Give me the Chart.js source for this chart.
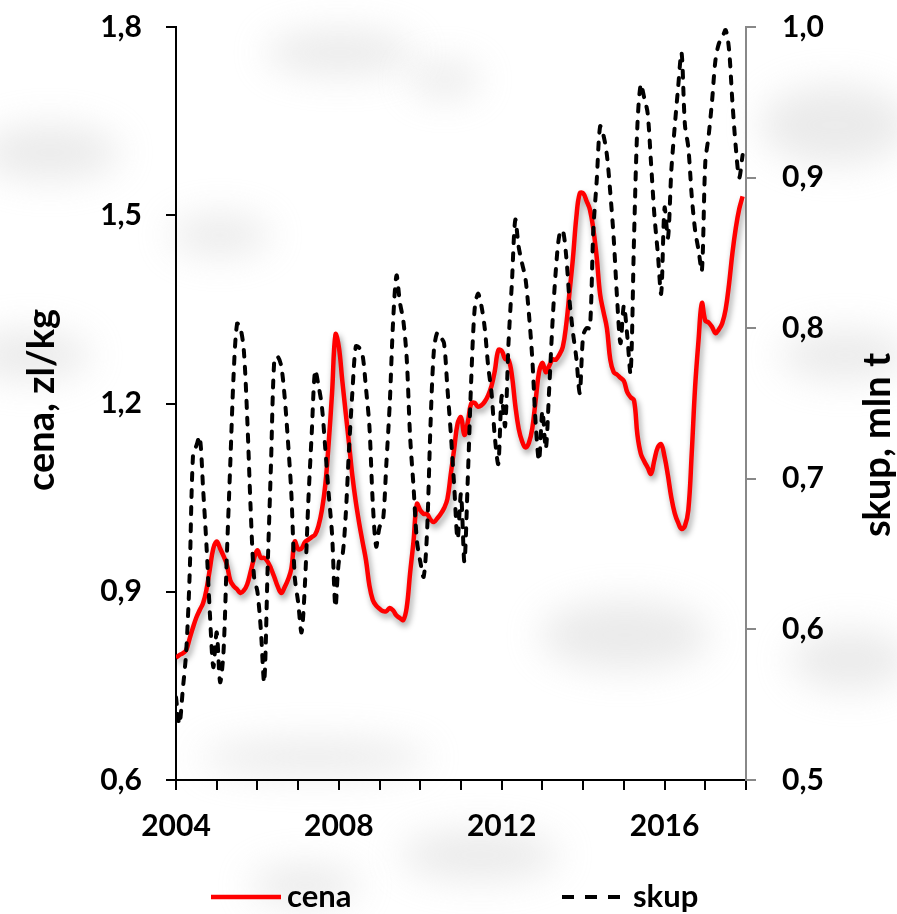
<!DOCTYPE html>
<html lang="pl">
<head>
<meta charset="utf-8">
<title>Cena i skup</title>
<script src="https://cdn.jsdelivr.net/npm/chart.js@4.4.0/dist/chart.umd.min.js"></script>
<style>
  html, body { margin: 0; padding: 0; background: #fff; }
  #wrap { position: relative; width: 897px; height: 914px; overflow: hidden; }
  #tlo { position: absolute; left: 0; top: 0; width: 897px; height: 914px; }
  #tlo div { position: absolute; border-radius: 50%; background: #cfcfcf; filter: blur(18px); opacity: 0.42; }
  canvas { position: absolute; left: 0; top: 0; }
</style>
</head>
<body>
<div id="wrap">
  <div id="tlo">
    <div style="left:265px;top:30px;width:150px;height:45px;"></div>
    <div style="left:410px;top:62px;width:70px;height:35px;"></div>
    <div style="left:-20px;top:125px;width:140px;height:55px;"></div>
    <div style="left:170px;top:215px;width:100px;height:40px;"></div>
    <div style="left:-30px;top:330px;width:120px;height:50px;"></div>
    <div style="left:760px;top:85px;width:150px;height:80px;"></div>
    <div style="left:780px;top:330px;width:130px;height:50px;"></div>
    <div style="left:540px;top:600px;width:170px;height:70px;"></div>
    <div style="left:790px;top:630px;width:120px;height:60px;"></div>
    <div style="left:200px;top:740px;width:230px;height:35px;"></div>
    <div style="left:400px;top:830px;width:160px;height:50px;"></div>
    <div style="left:250px;top:865px;width:110px;height:40px;"></div>
  </div>
  <canvas id="wykres" width="897" height="914"></canvas>
</div>
<script>
// dane miesieczne, I.2004 - XII.2017
const cena = [
  0.795, 0.799, 0.802, 0.807, 0.825, 0.843, 0.859, 0.871, 0.882, 0.904, 0.937, 0.969,
  0.980, 0.969, 0.957, 0.943, 0.918, 0.909, 0.904, 0.898, 0.902, 0.912, 0.932, 0.953,
  0.966, 0.954, 0.954, 0.948, 0.937, 0.923, 0.908, 0.898, 0.907, 0.919, 0.937, 0.980,
  0.968, 0.969, 0.979, 0.983, 0.987, 0.991, 1.005, 1.030, 1.070, 1.137, 1.217, 1.310,
  1.290, 1.237, 1.186, 1.136, 1.084, 1.043, 1.009, 0.979, 0.950, 0.910, 0.887, 0.878,
  0.873, 0.869, 0.869, 0.874, 0.870, 0.862, 0.858, 0.855, 0.875, 0.930, 0.980, 1.040,
  1.030, 1.024, 1.024, 1.015, 1.011, 1.017, 1.024, 1.033, 1.048, 1.088, 1.128, 1.168,
  1.178, 1.150, 1.170, 1.200, 1.201, 1.195, 1.197, 1.203, 1.213, 1.228, 1.253, 1.285,
  1.284, 1.271, 1.270, 1.245, 1.197, 1.160, 1.140, 1.130, 1.137, 1.160, 1.205, 1.250,
  1.265, 1.250, 1.260, 1.270, 1.270, 1.278, 1.290, 1.325, 1.378, 1.432, 1.497, 1.535,
  1.535, 1.523, 1.509, 1.478, 1.433, 1.374, 1.346, 1.320, 1.270, 1.250, 1.246, 1.241,
  1.236, 1.218, 1.210, 1.205, 1.150, 1.120, 1.108, 1.098, 1.088, 1.110, 1.130, 1.135,
  1.115, 1.085, 1.050, 1.025, 1.010, 1.000, 1.005, 1.030, 1.120, 1.226, 1.300, 1.360,
  1.332, 1.329, 1.322, 1.312, 1.318, 1.328, 1.350, 1.390, 1.440, 1.480, 1.510, 1.530
];
const skup = [
  0.555, 0.537, 0.560, 0.585, 0.635, 0.715, 0.722, 0.728, 0.693, 0.655, 0.610, 0.575,
  0.598, 0.565, 0.585, 0.650, 0.710, 0.770, 0.803, 0.800, 0.785, 0.740, 0.680, 0.635,
  0.625, 0.600, 0.565, 0.640, 0.710, 0.780, 0.781, 0.775, 0.755, 0.725, 0.690, 0.635,
  0.618, 0.598, 0.630, 0.685, 0.730, 0.772, 0.762, 0.748, 0.720, 0.690, 0.663, 0.615,
  0.645, 0.648, 0.675, 0.720, 0.758, 0.788, 0.787, 0.782, 0.760, 0.735, 0.684, 0.655,
  0.668, 0.672, 0.710, 0.750, 0.805, 0.835, 0.817, 0.805, 0.780, 0.728, 0.695, 0.659,
  0.645, 0.635, 0.665, 0.735, 0.785, 0.797, 0.794, 0.790, 0.760, 0.730, 0.695, 0.660,
  0.690, 0.645, 0.700, 0.765, 0.812, 0.823, 0.815, 0.800, 0.775, 0.757, 0.727, 0.710,
  0.755, 0.735, 0.790, 0.830, 0.872, 0.854, 0.843, 0.833, 0.810, 0.780, 0.737, 0.712,
  0.745, 0.720, 0.760, 0.805, 0.840, 0.862, 0.865, 0.848, 0.818, 0.797, 0.780, 0.757,
  0.795, 0.800, 0.800, 0.865, 0.898, 0.934, 0.928, 0.915, 0.890, 0.860, 0.820, 0.790,
  0.815, 0.795, 0.770, 0.860, 0.935, 0.962, 0.953, 0.943, 0.910, 0.875, 0.850, 0.823,
  0.880, 0.860, 0.905, 0.934, 0.960, 0.983, 0.935, 0.920, 0.888, 0.865, 0.852, 0.838,
  0.910, 0.928, 0.951, 0.978, 0.989, 0.993, 0.998, 0.985, 0.950, 0.920, 0.900, 0.915
];
const lataEtykiety = [2004, 2008, 2012, 2016];
const cenaTicks = [0.6, 0.9, 1.2, 1.5, 1.8];
const skupTicks = [0.5, 0.6, 0.7, 0.8, 0.9, 1.0];

// pozycja kazdego miesiaca na osi czasu
const miesiace = cena.map((_, i) => 2004 + i / 12);

const FONT = 'Lato, "Open Sans", sans-serif';
const przecinek = v => Number(v).toFixed(1).replace('.', ',');

// cien pod czerwona linia
const cien = {
  id: 'cien',
  beforeDatasetDraw(chart, args) {
    if (args.index !== 0) return;
    const c = chart.ctx;
    c.save();
    c.shadowColor = 'rgba(0,0,0,0.4)';
    c.shadowBlur = 6;
    c.shadowOffsetX = 2;
    c.shadowOffsetY = 4;
  },
  afterDatasetDraw(chart, args) {
    if (args.index === 0) chart.ctx.restore();
  }
};

// tytuly osi + legenda na dole
const opisy = {
  id: 'opisy',
  afterDraw(chart) {
    const c = chart.ctx;
    c.save();
    c.fillStyle = '#000';
    c.font = 'bold 38px ' + FONT;
    c.textAlign = 'center';
    c.textBaseline = 'middle';

    c.save();
    c.translate(42, 400);
    c.rotate(-Math.PI / 2);
    c.fillText('cena, zl/kg', 0, 0);
    c.restore();

    c.save();
    c.translate(878, 445);
    c.rotate(-Math.PI / 2);
    c.fillText('skup, mln t', 0, 0);
    c.restore();

    // legenda
    const ly = 897;
    const ds = chart.data.datasets;
    c.font = 'bold 31px ' + FONT;
    c.textAlign = 'left';

    c.strokeStyle = ds[0].borderColor;
    c.lineWidth = ds[0].borderWidth;
    c.beginPath(); c.moveTo(211, ly); c.lineTo(281, ly); c.stroke();
    c.fillText(ds[0].label, 287, ly);

    c.strokeStyle = ds[1].borderColor;
    c.lineWidth = ds[1].borderWidth;
    c.setLineDash([12, 11]);
    c.beginPath(); c.moveTo(562, ly); c.lineTo(631, ly); c.stroke();
    c.setLineDash([]);
    c.fillText(ds[1].label, 633, ly);
    c.restore();
  }
};

const tickFont = { family: FONT, size: 30, weight: 'bold' };

// os pionowa bez dodatkowego marginesu na etykiety skrajne
const bezMarginesu = szer => s => {
  s.width = szer;
  s.paddingTop = 0;
  s.paddingBottom = 0;
};

new Chart(document.getElementById('wykres'), {
  type: 'line',
  data: {
    datasets: [
      {
        label: 'cena',
        data: miesiace.map((x, i) => ({ x: x, y: cena[i] })),
        yAxisID: 'y',
        borderColor: '#ff0000',
        borderWidth: 4.5,
        pointRadius: 0,
        tension: 0.4,
        fill: false,
        order: 2
      },
      {
        label: 'skup',
        data: miesiace.map((x, i) => ({ x: x, y: skup[i] })),
        yAxisID: 'y1',
        borderColor: '#000000',
        borderWidth: 4,
        borderDash: [7, 10],
        borderCapStyle: 'round',
        pointRadius: 0,
        tension: 0.3,
        fill: false,
        order: 1
      }
    ]
  },
  options: {
    responsive: false,
    animation: false,
    devicePixelRatio: 1,
    layout: { padding: { top: 27, left: 0, right: 0, bottom: 0 } },
    plugins: {
      legend: { display: false },
      tooltip: { enabled: false }
    },
    scales: {
      x: {
        type: 'linear',
        min: 2004,
        max: 2018,
        ticks: {
          stepSize: 1,
          autoSkip: false,
          maxRotation: 0,
          padding: 18,
          color: '#000',
          font: tickFont,
          callback: v => lataEtykiety.includes(v) ? String(v) : ''
        },
        grid: { drawOnChartArea: false, color: '#000', lineWidth: 2, tickLength: 10 },
        border: { color: '#000', width: 2 },
        afterFit: s => { s.height = 134; s.paddingLeft = 0; s.paddingRight = 0; }
      },
      y: {
        position: 'left',
        min: 0.6,
        max: 1.8,
        afterBuildTicks: s => { s.ticks = cenaTicks.map(v => ({ value: v })); },
        ticks: { padding: 24, color: '#000', font: tickFont, callback: przecinek },
        grid: { drawOnChartArea: false, color: '#000', lineWidth: 2, tickLength: 10 },
        border: { color: '#000', width: 2 },
        afterFit: bezMarginesu(176)
      },
      y1: {
        position: 'right',
        min: 0.5,
        max: 1.0,
        afterBuildTicks: s => { s.ticks = skupTicks.map(v => ({ value: v })); },
        ticks: { padding: 26, color: '#000', font: tickFont, callback: przecinek },
        grid: { drawOnChartArea: false, color: '#888', lineWidth: 2, tickLength: 10 },
        border: { color: '#888', width: 2 },
        afterFit: bezMarginesu(151)
      }
    }
  },
  plugins: [cien, opisy]
});
</script>
</body>
</html>
